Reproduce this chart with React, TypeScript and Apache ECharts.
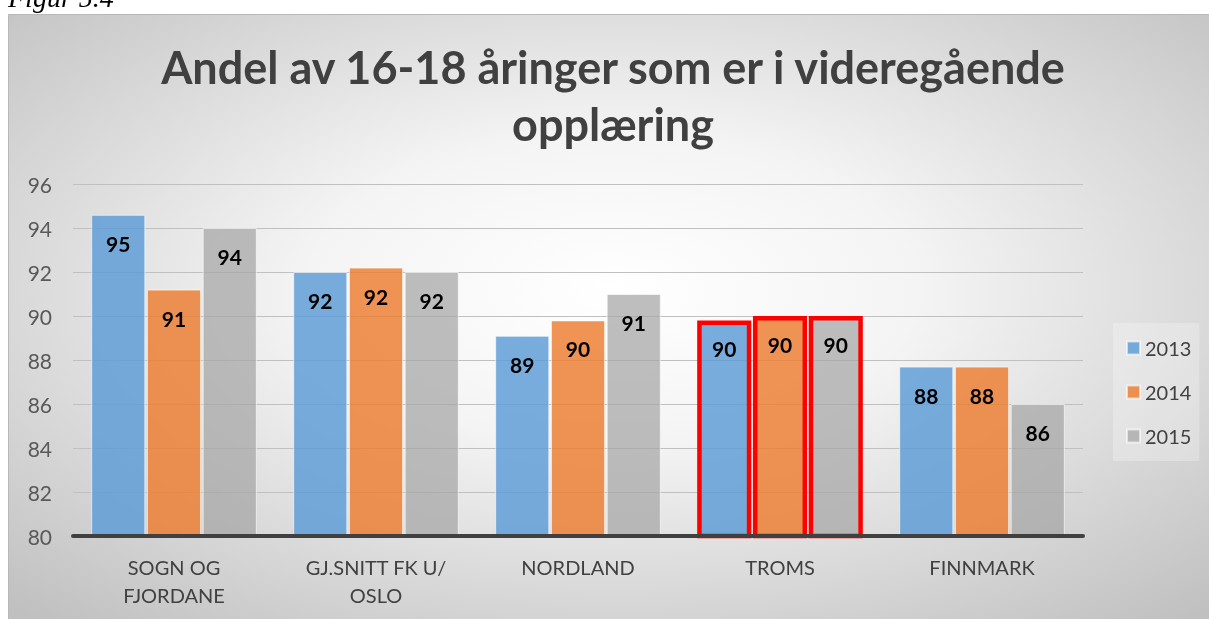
import React, { useEffect, useRef } from "react";
import * as echarts from "echarts";

const categories = ["SOGN OG\nFJORDANE", "GJ.SNITT FK U/\nOSLO", "NORDLAND", "TROMS", "FINNMARK"];
const years = ["2013", "2014", "2015"];
const v2013 = [94.6, 92.0, 89.1, 89.8, 87.7];
const v2014 = [91.2, 92.2, 89.8, 90.0, 87.7];
const v2015 = [94.0, 92.0, 91.0, 90.0, 86.0];
const highlighted = "TROMS";
const yMin = 80;
const yMax = 96;
const yStep = 2;
const titleText = "Andel av 16-18 åringer som er i videregående\nopplæring";
const figureCaption = "Figur 5.4";

const FONT = "Lato, 'Open Sans', sans-serif";

export default function App() {
  const ref = useRef<HTMLDivElement>(null);
  useEffect(() => {
    if (!ref.current) return;
    const chart = echarts.init(ref.current, undefined, { renderer: "svg" });
    const colors = ["rgba(91,155,213,0.82)", "rgba(237,125,49,0.82)", "rgba(165,165,165,0.72)"];
    const allValues = [v2013, v2014, v2015];
    const series = years.map((y, si) => ({
      name: y,
      type: "bar",
      barGap: "3%",
      barCategoryGap: "18%",
      itemStyle: { color: colors[si], borderColor: "rgba(255,255,255,0.6)", borderWidth: 1 },
      label: {
        show: true,
        position: "insideTop",
        distance: 18,
        formatter: (p: any) => String(Math.round(p.value)),
        fontSize: 21,
        fontWeight: "bold",
        color: "#000",
        fontFamily: FONT,
      },
      data: allValues[si].map((v, i) =>
        categories[i] === highlighted
          ? { value: v, itemStyle: { borderColor: "#ff0000", borderWidth: 4.5 } }
          : v
      ),
    }));
    chart.setOption({
      animation: false,
      color: colors,
      graphic: [
        {
          type: "rect",
          z: -10,
          shape: { x: 8.5, y: 14.5, width: 1210, height: 610 },
          style: {
            fill: {
              type: "radial",
              x: 0.5,
              y: 0.45,
              r: 0.72,
              colorStops: [
                { offset: 0, color: "#ffffff" },
                { offset: 0.35, color: "#f4f4f4" },
                { offset: 1, color: "#c0c0c0" },
              ],
            },
            stroke: "#b8b8b8",
            lineWidth: 1,
          },
        },
        {
          type: "text",
          x: 8,
          y: 11,
          style: {
            text: figureCaption,
            font: "italic 28px 'Liberation Serif', 'DejaVu Serif', serif",
            fill: "#000",
            textVerticalAlign: "bottom",
          },
        },
      ],
      title: {
        text: titleText,
        left: 613,
        top: 38,
        textAlign: "center",
        padding: 0,
        textStyle: {
          fontFamily: FONT,
          fontSize: 45,
          fontWeight: "bold",
          color: "#404040",
          lineHeight: 57,
        },
      },
      legend: {
        orient: "vertical",
        left: 1113,
        top: 323,
        padding: [14, 8, 14, 13],
        backgroundColor: "rgba(255,255,255,0.25)",
        itemWidth: 13,
        itemHeight: 13,
        itemGap: 22,
        icon: "rect",
        data: years,
        textStyle: { fontFamily: FONT, fontSize: 20, color: "#404040", lineHeight: 22 },
      },
      grid: { left: 73, right: 126, top: 184, bottom: 83, containLabel: false },
      xAxis: {
        type: "category",
        data: categories,
        axisTick: { show: false },
        axisLine: { lineStyle: { color: "#404040", width: 4 } },
        axisLabel: {
          fontFamily: FONT,
          fontSize: 20,
          color: "#404040",
          lineHeight: 28,
          margin: 17,
          interval: 0,
        },
        z: 5,
      },
      yAxis: {
        type: "value",
        min: yMin,
        max: yMax,
        interval: yStep,
        axisLine: { show: false },
        axisTick: { show: false },
        axisLabel: { fontFamily: FONT, fontSize: 21, color: "#595959", margin: 21 },
        splitLine: { lineStyle: { color: "#c0c0c0", width: 1 } },
      },
      series,
    });
    return () => chart.dispose();
  }, []);
  return (
    <div
      ref={ref}
      style={{ position: "fixed", left: 0, top: 0, width: 1209, height: 619 }}
    />
  );
}
